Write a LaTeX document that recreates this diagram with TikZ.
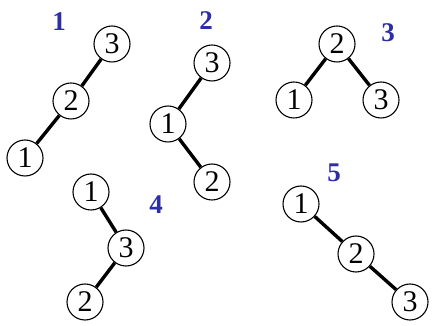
\documentclass[tikz,border=0pt]{standalone}
\usepackage{fontspec}
\setmainfont{Liberation Serif}
\definecolor{lblue}{RGB}{45,45,170}
\begin{document}
\begin{tikzpicture}[x=1pt,y=1pt,
  tn/.style={circle,draw=black,line width=1.1pt,fill=white,minimum size=36pt,inner sep=0pt,font=\fontsize{30}{30}\selectfont},
  ed/.style={line width=3.4pt,black},
  lb/.style={text=lblue,font=\fontsize{27}{27}\selectfont\bfseries,inner sep=0pt}]
\useasboundingbox (0,0) rectangle (433,326);
% tree 1
\node[lb] (l1) at (59,304) {1};
\node[tn] (a3) at (112,282) {3};
\node[tn] (a2) at (71,225) {2};
\node[tn] (a1) at (25,168) {1};
\draw[ed] (a3) -- (a2);
\draw[ed] (a2) -- (a1);
% tree 2
\node[lb] (l2) at (206,305) {2};
\node[tn] (b3) at (212,263) {3};
\node[tn] (b1) at (168,202) {1};
\node[tn] (b2) at (212,144) {2};
\draw[ed] (b3) -- (b1);
\draw[ed] (b1) -- (b2);
% tree 3
\node[lb] (l3) at (388,293) {3};
\node[tn] (c2) at (337,282) {2};
\node[tn] (c1) at (294,226) {1};
\node[tn] (c3) at (381,226) {3};
\draw[ed] (c2) -- (c1);
\draw[ed] (c2) -- (c3);
% tree 4
\node[lb] (l4) at (156,121) {4};
\node[tn] (d1) at (91,134) {1};
\node[tn] (d3) at (126,78) {3};
\node[tn] (d2) at (85,24) {2};
\draw[ed] (d1) -- (d3);
\draw[ed] (d3) -- (d2);
% tree 5
\node[lb] (l5) at (334,153) {5};
\node[tn] (e1) at (301,122) {1};
\node[tn] (e2) at (356,72) {2};
\node[tn] (e3) at (410,24) {3};
\draw[ed] (e1) -- (e2);
\draw[ed] (e2) -- (e3);
\end{tikzpicture}
\end{document}
